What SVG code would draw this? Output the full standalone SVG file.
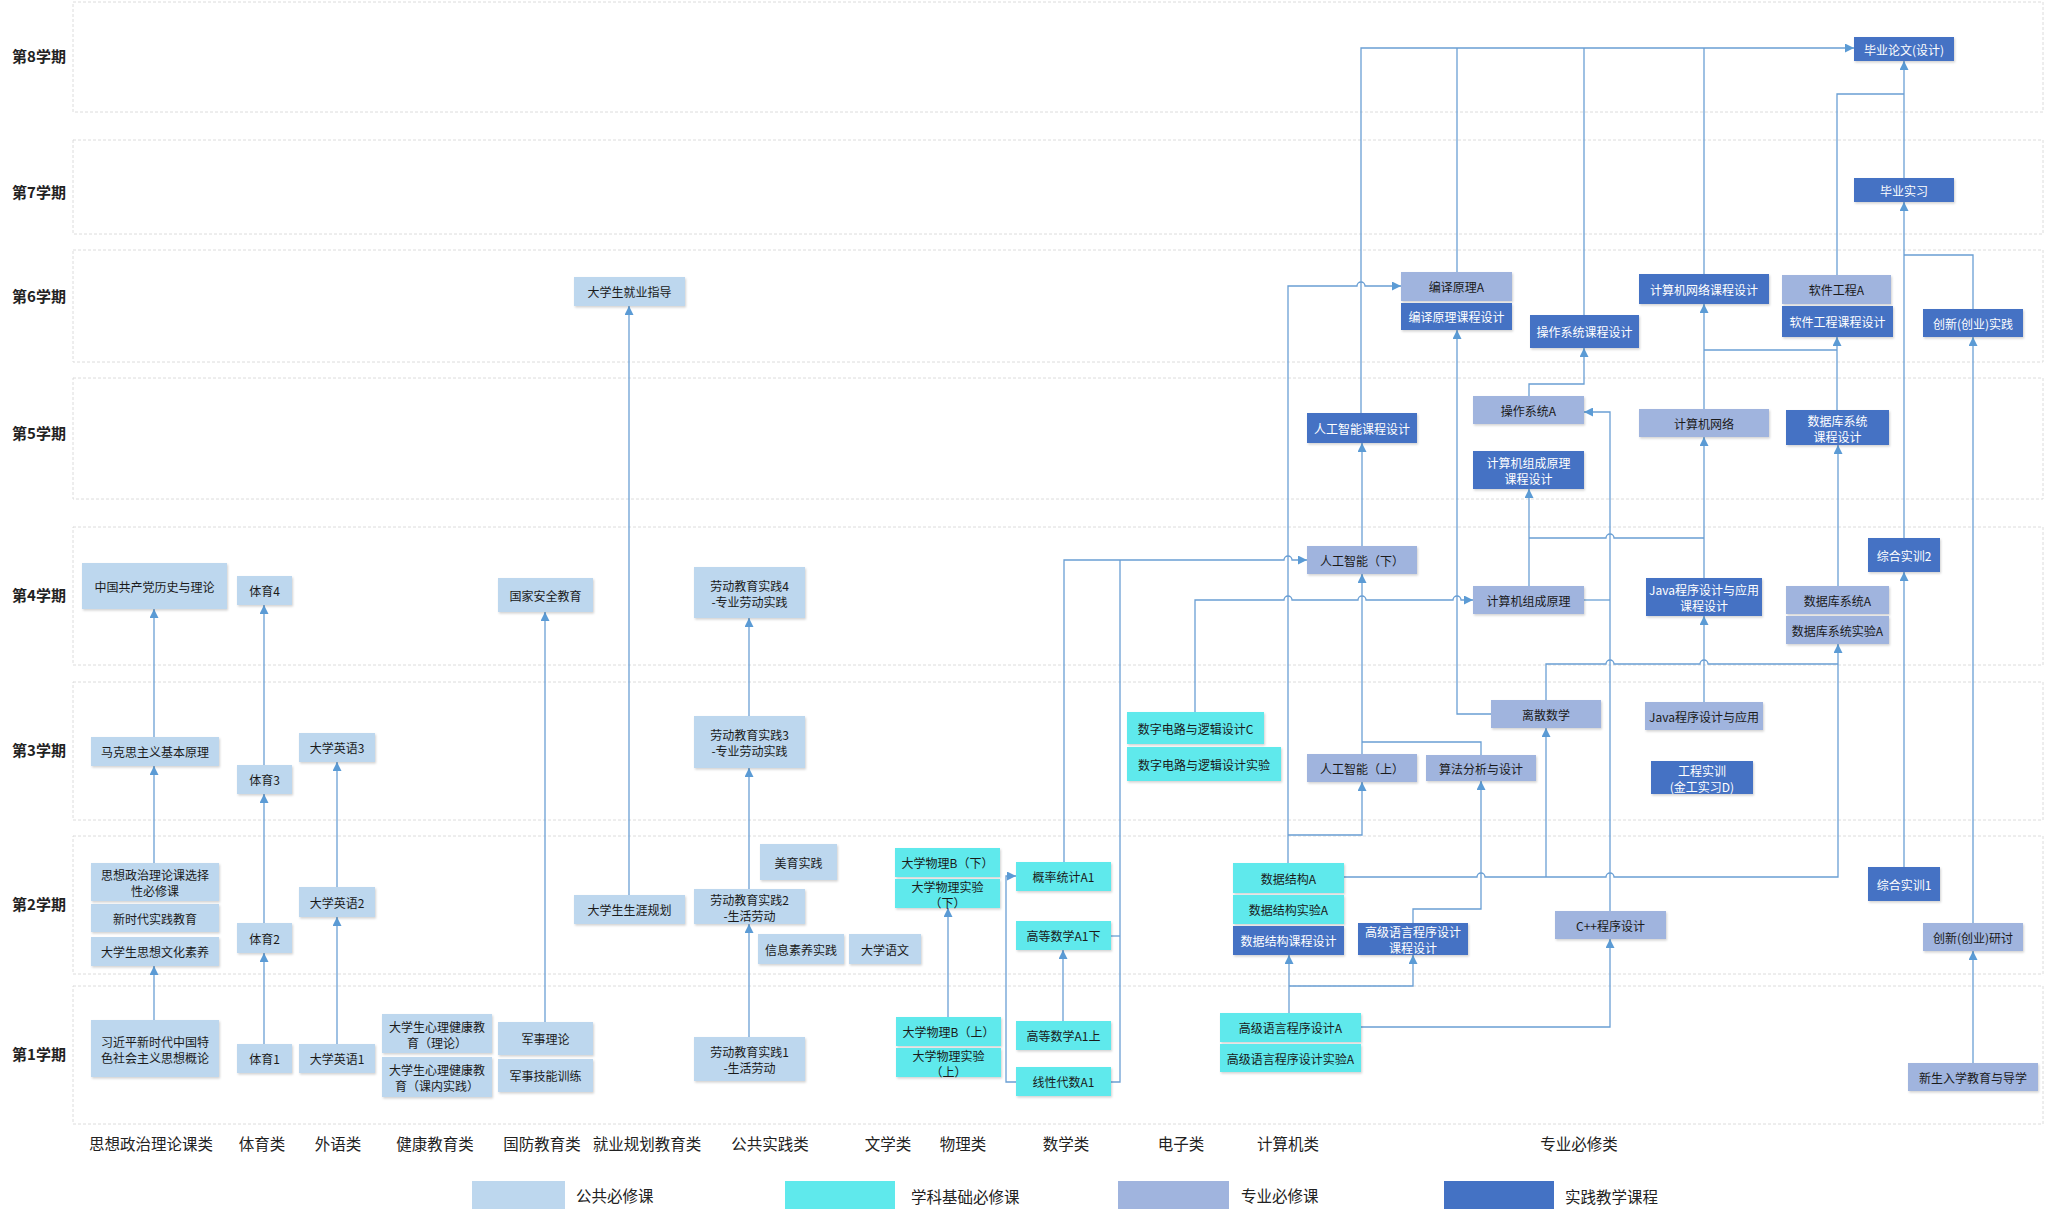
<svg xmlns="http://www.w3.org/2000/svg" width="2048" height="1219" viewBox="0 0 2048 1219">
<style>
text{font-family:"Noto Sans CJK SC","Noto Sans",sans-serif;}
.band{fill:#fff;stroke:#dcdcdc;stroke-width:1;stroke-dasharray:3 2;}
.sem{font-size:15px;font-weight:bold;fill:#222;text-anchor:middle;dominant-baseline:central;}
.cat{font-size:15.5px;fill:#222;text-anchor:middle;dominant-baseline:central;}
.leg{font-size:15.5px;fill:#222;dominant-baseline:central;}
.node rect{filter:url(#sh);}
.pub rect{fill:#BDD7EE;}
.base rect{fill:#5FE9EC;}
.prof rect{fill:#A0B4DE;}
.prac rect{fill:#4472C4;}
.node text{font-size:12px;text-anchor:middle;dominant-baseline:central;fill:#1a1a1a;}
.prac text{fill:#fff;}
#connectors path{fill:none;stroke:#6A9FD4;stroke-width:1.3;}
#connectors path.a{marker-end:url(#ah);}
</style>
<defs>
<marker id="ah" viewBox="0 0 10 10" refX="10" refY="5" markerWidth="9" markerHeight="9" markerUnits="userSpaceOnUse" orient="auto"><path d="M0,0 L10,5 L0,10 z" fill="#5B9BD5"/></marker>
<filter id="sh" x="-10%" y="-10%" width="130%" height="140%"><feDropShadow dx="1" dy="1.5" stdDeviation="1" flood-color="#000" flood-opacity="0.18"/></filter>
</defs>
<rect width="2048" height="1219" fill="#fff"/>
<g id="bands">
<rect class="band" x="73" y="2" width="1970" height="110"/>
<rect class="band" x="73" y="140" width="1970" height="94"/>
<rect class="band" x="73" y="250" width="1970" height="112"/>
<rect class="band" x="73" y="378" width="1970" height="121"/>
<rect class="band" x="73" y="527" width="1970" height="138"/>
<rect class="band" x="73" y="682" width="1970" height="138"/>
<rect class="band" x="73" y="836" width="1970" height="138"/>
<rect class="band" x="73" y="986" width="1970" height="138"/>
</g>
<g id="semesters">
<text class="sem" x="39" y="55">第8学期</text>
<text class="sem" x="39" y="191">第7学期</text>
<text class="sem" x="39" y="295">第6学期</text>
<text class="sem" x="39" y="432">第5学期</text>
<text class="sem" x="39" y="594">第4学期</text>
<text class="sem" x="39" y="749">第3学期</text>
<text class="sem" x="39" y="903">第2学期</text>
<text class="sem" x="39" y="1053">第1学期</text>
</g>
<g id="categories">
<text class="cat" x="151" y="1143">思想政治理论课类</text>
<text class="cat" x="262" y="1143">体育类</text>
<text class="cat" x="338" y="1143">外语类</text>
<text class="cat" x="435" y="1143">健康教育类</text>
<text class="cat" x="542" y="1143">国防教育类</text>
<text class="cat" x="647" y="1143">就业规划教育类</text>
<text class="cat" x="770" y="1143">公共实践类</text>
<text class="cat" x="888" y="1143">文学类</text>
<text class="cat" x="963" y="1143">物理类</text>
<text class="cat" x="1066" y="1143">数学类</text>
<text class="cat" x="1181" y="1143">电子类</text>
<text class="cat" x="1288" y="1143">计算机类</text>
<text class="cat" x="1579" y="1143">专业必修类</text>
</g>
<g id="connectors">
<path class="a" d="M154,1020 V966"/>
<path class="a" d="M154,863 V766"/>
<path class="a" d="M154,737 V609"/>
<path class="a" d="M264,1044 V953"/>
<path class="a" d="M264,923 V794"/>
<path class="a" d="M264,765 V605"/>
<path class="a" d="M337,1044 V917"/>
<path class="a" d="M337,887 V762"/>
<path class="a" d="M545,1022 V612"/>
<path class="a" d="M629,895 V306"/>
<path class="a" d="M749,1037 V924"/>
<path class="a" d="M749,889 V768"/>
<path class="a" d="M749,716 V618"/>
<path class="a" d="M948,1017 V908"/>
<path class="a" d="M1063,1021 V950"/>
<path class="a" d="M1016,1082 H1006 V876 H1016"/>
<path class="a" d="M1064,862 V560 H1284 a4,4 0 0 1 8,0 H1307"/>
<path d="M1111,1082 H1120 V560"/>
<path d="M1111,936 H1120"/>
<path class="a" d="M1195,712 V600 H1284 a4,4 0 0 1 8,0 H1358 a4,4 0 0 1 8,0 H1453 a4,4 0 0 1 8,0 H1473"/>
<path class="a" d="M1288,863 V286 H1357 a4,4 0 0 1 8,0 H1401"/>
<path class="a" d="M1288,835 H1362 V782"/>
<path class="a" d="M1362,754 V574"/>
<path d="M1481,755 V742 H1362"/>
<path class="a" d="M1362,546 V443"/>
<path class="a" d="M1361,413 V48 H1854"/>
<path d="M1457,272 V48"/>
<path class="a" d="M1491,714 H1457 V330"/>
<path class="a" d="M1289,1013 V955"/>
<path class="a" d="M1289,986 H1413 V955"/>
<path class="a" d="M1413,923 V909 H1481 V781"/>
<path class="a" d="M1344,877 H1477 a4,4 0 0 1 8,0 H1606 a4,4 0 0 1 8,0 H1838 V644"/>
<path class="a" d="M1546,877 V728"/>
<path d="M1546,700 V664 H1606 a4,4 0 0 1 8,0 H1700 a4,4 0 0 1 8,0 H1838"/>
<path class="a" d="M1361,1027 H1610 V939"/>
<path class="a" d="M1610,911 V412 H1584"/>
<path d="M1584,600 H1610"/>
<path class="a" d="M1529,586 V489"/>
<path d="M1529,538 H1606 a4,4 0 0 1 8,0 H1704"/>
<path class="a" d="M1704,702 V616"/>
<path class="a" d="M1704,578 V437"/>
<path class="a" d="M1704,409 V304"/>
<path d="M1704,350 H1837"/>
<path d="M1704,274 V48"/>
<path class="a" d="M1529,396 V384 H1584 V348"/>
<path d="M1584,315 V48"/>
<path class="a" d="M1838,586 V445"/>
<path class="a" d="M1837,410 V337"/>
<path d="M1837,275 V94 H1904"/>
<path class="a" d="M1904,178 V61"/>
<path class="a" d="M1904,538 V202"/>
<path d="M1973,309 V255 H1904"/>
<path class="a" d="M1904,867 V572"/>
<path class="a" d="M1973,923 V337"/>
<path class="a" d="M1973,1063 V951"/>
</g>
<g id="nodes">
<g id="n_xjp" class="node pub"><rect x="91" y="1020" width="128" height="57"/><text x="155" y="1048.5"><tspan x="155" y="1040.5">习近平新时代中国特</tspan><tspan x="155" y="1056.5">色社会主义思想概论</tspan></text></g>
<g id="n_sxwh" class="node pub"><rect x="91" y="937" width="128" height="29"/><text x="155" y="951.5">大学生思想文化素养</text></g>
<g id="n_xsd" class="node pub"><rect x="91" y="904" width="128" height="28"/><text x="155" y="918">新时代实践教育</text></g>
<g id="n_szxx" class="node pub"><rect x="91" y="863" width="128" height="38"/><text x="155" y="882"><tspan x="155" y="874">思想政治理论课选择</tspan><tspan x="155" y="890">性必修课</tspan></text></g>
<g id="n_mks" class="node pub"><rect x="91" y="737" width="128" height="29"/><text x="155" y="751.5">马克思主义基本原理</text></g>
<g id="n_zgcd" class="node pub"><rect x="82" y="563" width="145" height="46"/><text x="154.5" y="586">中国共产党历史与理论</text></g>
<g id="n_ty1" class="node pub"><rect x="237" y="1044" width="55" height="29"/><text x="264.5" y="1058.5">体育1</text></g>
<g id="n_ty2" class="node pub"><rect x="237" y="923" width="55" height="30"/><text x="264.5" y="938">体育2</text></g>
<g id="n_ty3" class="node pub"><rect x="237" y="765" width="55" height="29"/><text x="264.5" y="779.5">体育3</text></g>
<g id="n_ty4" class="node pub"><rect x="237" y="576" width="55" height="29"/><text x="264.5" y="590.5">体育4</text></g>
<g id="n_yy1" class="node pub"><rect x="299" y="1044" width="76" height="29"/><text x="337" y="1058.5">大学英语1</text></g>
<g id="n_yy2" class="node pub"><rect x="299" y="887" width="76" height="30"/><text x="337" y="902">大学英语2</text></g>
<g id="n_yy3" class="node pub"><rect x="299" y="733" width="76" height="29"/><text x="337" y="747.5">大学英语3</text></g>
<g id="n_xl1" class="node pub"><rect x="382" y="1014" width="110" height="39"/><text x="437" y="1033.5"><tspan x="437" y="1025.5">大学生心理健康教</tspan><tspan x="437" y="1041.5">育（理论）</tspan></text></g>
<g id="n_xl2" class="node pub"><rect x="382" y="1057" width="110" height="40"/><text x="437" y="1077"><tspan x="437" y="1069">大学生心理健康教</tspan><tspan x="437" y="1085">育（课内实践）</tspan></text></g>
<g id="n_jslr" class="node pub"><rect x="498" y="1022" width="95" height="33"/><text x="545.5" y="1038.5">军事理论</text></g>
<g id="n_jsjn" class="node pub"><rect x="498" y="1059" width="95" height="33"/><text x="545.5" y="1075.5">军事技能训练</text></g>
<g id="n_gjaq" class="node pub"><rect x="498" y="578" width="95" height="34"/><text x="545.5" y="595">国家安全教育</text></g>
<g id="n_syg" class="node pub"><rect x="574" y="895" width="111" height="29"/><text x="629.5" y="909.5">大学生生涯规划</text></g>
<g id="n_jyzd" class="node pub"><rect x="574" y="277" width="111" height="29"/><text x="629.5" y="291.5">大学生就业指导</text></g>
<g id="n_ld1" class="node pub"><rect x="694" y="1037" width="111" height="44"/><text x="749.5" y="1059"><tspan x="749.5" y="1051">劳动教育实践1</tspan><tspan x="749.5" y="1067">-生活劳动</tspan></text></g>
<g id="n_ld2" class="node pub"><rect x="694" y="889" width="111" height="35"/><text x="749.5" y="906.5"><tspan x="749.5" y="898.5">劳动教育实践2</tspan><tspan x="749.5" y="914.5">-生活劳动</tspan></text></g>
<g id="n_ld3" class="node pub"><rect x="694" y="716" width="111" height="52"/><text x="749.5" y="742"><tspan x="749.5" y="734">劳动教育实践3</tspan><tspan x="749.5" y="750">-专业劳动实践</tspan></text></g>
<g id="n_ld4" class="node pub"><rect x="694" y="567" width="111" height="51"/><text x="749.5" y="592.5"><tspan x="749.5" y="584.5">劳动教育实践4</tspan><tspan x="749.5" y="600.5">-专业劳动实践</tspan></text></g>
<g id="n_my" class="node pub"><rect x="760" y="844" width="77" height="36"/><text x="798.5" y="862">美育实践</text></g>
<g id="n_xxsy" class="node pub"><rect x="758" y="934" width="86" height="30"/><text x="801" y="949">信息素养实践</text></g>
<g id="n_dxyw" class="node pub"><rect x="849" y="934" width="72" height="30"/><text x="885" y="949">大学语文</text></g>
<g id="n_wlbx" class="node base"><rect x="895" y="848" width="105" height="29"/><text x="947.5" y="862.5">大学物理B（下）</text></g>
<g id="n_wlsx" class="node base"><rect x="895" y="879" width="105" height="29"/><text x="947.5" y="893.5"><tspan x="947.5" y="885.5">大学物理实验</tspan><tspan x="947.5" y="901.5">（下）</tspan></text></g>
<g id="n_wlbs" class="node base"><rect x="896" y="1017" width="105" height="29"/><text x="948.5" y="1031.5">大学物理B（上）</text></g>
<g id="n_wlss" class="node base"><rect x="896" y="1048" width="105" height="29"/><text x="948.5" y="1062.5"><tspan x="948.5" y="1054.5">大学物理实验</tspan><tspan x="948.5" y="1070.5">（上）</tspan></text></g>
<g id="n_gl" class="node base"><rect x="1016" y="862" width="95" height="29"/><text x="1063.5" y="876.5">概率统计A1</text></g>
<g id="n_gsx" class="node base"><rect x="1016" y="921" width="95" height="29"/><text x="1063.5" y="935.5">高等数学A1下</text></g>
<g id="n_gss" class="node base"><rect x="1016" y="1021" width="95" height="29"/><text x="1063.5" y="1035.5">高等数学A1上</text></g>
<g id="n_xd" class="node base"><rect x="1016" y="1067" width="95" height="29"/><text x="1063.5" y="1081.5">线性代数A1</text></g>
<g id="n_szc" class="node base"><rect x="1127" y="712" width="137" height="32"/><text x="1195.5" y="728">数字电路与逻辑设计C</text></g>
<g id="n_szsy" class="node base"><rect x="1127" y="747" width="154" height="34"/><text x="1204" y="764">数字电路与逻辑设计实验</text></g>
<g id="n_sjjg" class="node base"><rect x="1233" y="863" width="111" height="30"/><text x="1288.5" y="878">数据结构A</text></g>
<g id="n_sjsy" class="node base"><rect x="1233" y="895" width="111" height="29"/><text x="1288.5" y="909.5">数据结构实验A</text></g>
<g id="n_gjA" class="node base"><rect x="1220" y="1013" width="141" height="29"/><text x="1290.5" y="1027.5">高级语言程序设计A</text></g>
<g id="n_gjsy" class="node base"><rect x="1220" y="1044" width="141" height="28"/><text x="1290.5" y="1058">高级语言程序设计实验A</text></g>
<g id="n_rgs" class="node prof"><rect x="1307" y="754" width="110" height="28"/><text x="1362" y="768">人工智能（上）</text></g>
<g id="n_rgx" class="node prof"><rect x="1307" y="546" width="110" height="28"/><text x="1362" y="560">人工智能（下）</text></g>
<g id="n_sf" class="node prof"><rect x="1426" y="755" width="110" height="26"/><text x="1481" y="768">算法分析与设计</text></g>
<g id="n_ls" class="node prof"><rect x="1491" y="700" width="110" height="28"/><text x="1546" y="714">离散数学</text></g>
<g id="n_jzy" class="node prof"><rect x="1473" y="586" width="111" height="28"/><text x="1528.5" y="600">计算机组成原理</text></g>
<g id="n_czxt" class="node prof"><rect x="1473" y="396" width="111" height="28"/><text x="1528.5" y="410">操作系统A</text></g>
<g id="n_byA" class="node prof"><rect x="1401" y="272" width="111" height="29"/><text x="1456.5" y="286.5">编译原理A</text></g>
<g id="n_cpp" class="node prof"><rect x="1555" y="911" width="111" height="28"/><text x="1610.5" y="925">C++程序设计</text></g>
<g id="n_java" class="node prof"><rect x="1645" y="702" width="118" height="28"/><text x="1704" y="716">Java程序设计与应用</text></g>
<g id="n_jw" class="node prof"><rect x="1639" y="409" width="130" height="28"/><text x="1704" y="423">计算机网络</text></g>
<g id="n_sjk" class="node prof"><rect x="1786" y="586" width="103" height="28"/><text x="1837.5" y="600">数据库系统A</text></g>
<g id="n_sjksy" class="node prof"><rect x="1786" y="616" width="103" height="28"/><text x="1837.5" y="630">数据库系统实验A</text></g>
<g id="n_rjA" class="node prof"><rect x="1782" y="275" width="109" height="29"/><text x="1836.5" y="289.5">软件工程A</text></g>
<g id="n_cxyt" class="node prof"><rect x="1923" y="923" width="100" height="28"/><text x="1973" y="937">创新(创业)研讨</text></g>
<g id="n_xs" class="node prof"><rect x="1908" y="1063" width="130" height="28"/><text x="1973" y="1077">新生入学教育与导学</text></g>
<g id="n_sjkc" class="node prac"><rect x="1233" y="926" width="111" height="29"/><text x="1288.5" y="940.5">数据结构课程设计</text></g>
<g id="n_gjkc" class="node prac"><rect x="1358" y="923" width="110" height="32"/><text x="1413" y="939"><tspan x="1413" y="931">高级语言程序设计</tspan><tspan x="1413" y="947">课程设计</tspan></text></g>
<g id="n_rgkc" class="node prac"><rect x="1307" y="413" width="110" height="30"/><text x="1362" y="428">人工智能课程设计</text></g>
<g id="n_jzykc" class="node prac"><rect x="1473" y="451" width="111" height="38"/><text x="1528.5" y="470"><tspan x="1528.5" y="462">计算机组成原理</tspan><tspan x="1528.5" y="478">课程设计</tspan></text></g>
<g id="n_bykc" class="node prac"><rect x="1401" y="303" width="111" height="27"/><text x="1456.5" y="316.5">编译原理课程设计</text></g>
<g id="n_czkc" class="node prac"><rect x="1530" y="315" width="109" height="33"/><text x="1584.5" y="331.5">操作系统课程设计</text></g>
<g id="n_jwkc" class="node prac"><rect x="1639" y="274" width="130" height="30"/><text x="1704" y="289">计算机网络课程设计</text></g>
<g id="n_rjkc" class="node prac"><rect x="1782" y="306" width="111" height="31"/><text x="1837.5" y="321.5">软件工程课程设计</text></g>
<g id="n_javakc" class="node prac"><rect x="1646" y="578" width="116" height="38"/><text x="1704" y="597"><tspan x="1704" y="589">Java程序设计与应用</tspan><tspan x="1704" y="605">课程设计</tspan></text></g>
<g id="n_gcsx" class="node prac"><rect x="1651" y="761" width="102" height="33"/><text x="1702" y="777.5"><tspan x="1702" y="769.5">工程实训</tspan><tspan x="1702" y="785.5">(金工实习D)</tspan></text></g>
<g id="n_sjkkc" class="node prac"><rect x="1786" y="410" width="103" height="35"/><text x="1837.5" y="427.5"><tspan x="1837.5" y="419.5">数据库系统</tspan><tspan x="1837.5" y="435.5">课程设计</tspan></text></g>
<g id="n_zh2" class="node prac"><rect x="1868" y="538" width="72" height="34"/><text x="1904" y="555">综合实训2</text></g>
<g id="n_zh1" class="node prac"><rect x="1868" y="867" width="72" height="34"/><text x="1904" y="884">综合实训1</text></g>
<g id="n_cxsj" class="node prac"><rect x="1923" y="309" width="100" height="28"/><text x="1973" y="323">创新(创业)实践</text></g>
<g id="n_bysx" class="node prac"><rect x="1854" y="178" width="100" height="24"/><text x="1904" y="190">毕业实习</text></g>
<g id="n_bylw" class="node prac"><rect x="1854" y="37" width="100" height="24"/><text x="1904" y="49">毕业论文(设计)</text></g>
</g>
<g id="legend">
<rect x="472" y="1181" width="93" height="28" fill="#BDD7EE"/>
<text class="leg" x="576" y="1195">公共必修课</text>
<rect x="785" y="1181" width="110" height="28" fill="#5FE9EC"/>
<text class="leg" x="911" y="1196">学科基础必修课</text>
<rect x="1118" y="1181" width="111" height="28" fill="#A0B4DE"/>
<text class="leg" x="1241" y="1195">专业必修课</text>
<rect x="1444" y="1181" width="110" height="28" fill="#4472C4"/>
<text class="leg" x="1565" y="1196">实践教学课程</text>
</g>
</svg>
